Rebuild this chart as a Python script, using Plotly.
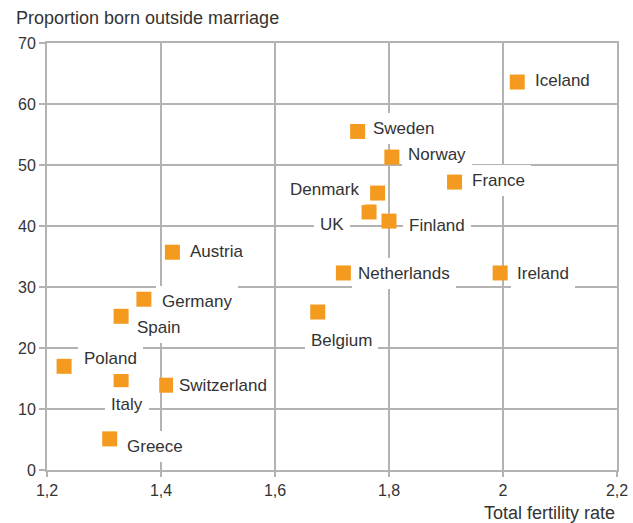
import plotly.graph_objects as go

# Countries with total fertility rate and share of births outside marriage (%)
countries = ["Iceland", "Sweden", "Norway", "France", "Denmark", "UK", "Finland",
             "Netherlands", "Ireland", "Austria", "Germany", "Spain", "Belgium",
             "Poland", "Italy", "Switzerland", "Greece"]
fertility = [2.025, 1.745, 1.805, 1.915, 1.78, 1.765, 1.80,
             1.72, 1.995, 1.42, 1.37, 1.33, 1.675,
             1.23, 1.33, 1.41, 1.31]
outside_marriage = [63.6, 55.5, 51.3, 47.2, 45.4, 42.3, 40.8,
                    32.3, 32.3, 35.7, 28.0, 25.2, 25.9,
                    17.0, 14.8, 13.9, 5.1]

x_ticks = [1.2, 1.4, 1.6, 1.8, 2.0, 2.2]
x_tick_labels = ["1,2", "1,4", "1,6", "1,8", "2", "2,2"]
y_ticks = [0, 10, 20, 30, 40, 50, 60, 70]

# Label placement relative to each marker: (text offset x, text offset y, anchor)
label_offsets = {
    "Iceland": (18, 2, "left"), "Sweden": (15, 3, "left"), "Norway": (16, 3, "left"),
    "France": (17, 2, "left"), "Denmark": (-19, 4, "right"), "UK": (-25, -13, "right"),
    "Finland": (20, -4, "left"), "Netherlands": (15, -1, "left"), "Ireland": (17, -1, "left"),
    "Austria": (18, 1, "left"), "Germany": (18, -2, "left"), "Spain": (16, -11, "left"),
    "Belgium": (-7, -28, "left"), "Poland": (20, 8, "left"), "Italy": (-10, -25, "left"),
    "Switzerland": (12, 0, "left"), "Greece": (17, -8, "left"),
}

ORANGE = "#F39A1F"
GRID = "#b3b3b3"
TEXT = "#333333"
FONT = "Liberation Sans, Arial, sans-serif"
PAD = 6

fig = go.Figure(go.Scatter(
    x=fertility, y=outside_marriage, mode="markers",
    marker=dict(symbol="square", size=15, color=ORANGE, line=dict(width=0)),
    hoverinfo="skip", showlegend=False,
))

annotations = []
for name, fx, fy in zip(countries, fertility, outside_marriage):
    dx, dy, anchor = label_offsets[name]
    shift = dx - PAD if anchor == "left" else dx + PAD
    annotations.append(dict(
        x=fx, y=fy, xref="x", yref="y", text=name, showarrow=False,
        xanchor=anchor, yanchor="middle", xshift=shift, yshift=dy,
        bgcolor="white", borderpad=PAD, borderwidth=0,
        font=dict(family=FONT, size=17, color=TEXT),
    ))

annotations.append(dict(
    x=1, y=-0.1007, xref="paper", yref="paper", text="Total fertility rate",
    showarrow=False, xanchor="right", yanchor="middle",
    font=dict(family=FONT, size=18, color=TEXT),
))

fig.update_layout(
    width=633, height=523,
    margin=dict(l=47, r=16, t=43, b=53, autoexpand=False),
    paper_bgcolor="white", plot_bgcolor="white",
    title=dict(text="Proportion born outside marriage", x=16 / 633, xanchor="left",
               y=1 - 18 / 523, yanchor="middle",
               font=dict(family=FONT, size=18, color=TEXT)),
    annotations=annotations,
    font=dict(family=FONT, color=TEXT),
)

fig.update_xaxes(
    range=[1.2, 2.2], tickvals=x_ticks, ticktext=x_tick_labels, automargin=False,
    showgrid=True, gridcolor=GRID, gridwidth=2,
    showline=True, linecolor=GRID, linewidth=2, mirror=True,
    ticks="outside", ticklen=5, tickwidth=2, tickcolor=GRID,
    tickfont=dict(family=FONT, size=16, color=TEXT), zeroline=False,
)
fig.update_yaxes(
    range=[0, 70], tickvals=y_ticks, automargin=False,
    showgrid=True, gridcolor=GRID, gridwidth=2,
    showline=True, linecolor=GRID, linewidth=2, mirror=True,
    ticks="outside", ticklen=6, tickwidth=2, tickcolor=GRID,
    tickfont=dict(family=FONT, size=16, color=TEXT), zeroline=False,
)

fig.write_html("out.html")
